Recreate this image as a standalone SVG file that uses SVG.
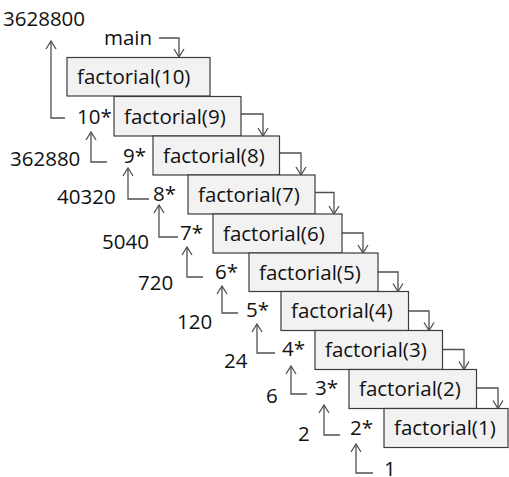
<svg xmlns="http://www.w3.org/2000/svg" width="509" height="477" viewBox="0 0 509 477">
<defs>
<style>
.box{fill:#f2f2f2;stroke:#3c3c3c;stroke-width:1.2}
text{font-family:"Open Sans","Liberation Sans",sans-serif;font-size:20.5px;fill:#111}
.c{fill:none;stroke:#505050;stroke-width:1.3}
.dn{marker-end:url(#ah)}
.up{marker-end:url(#ah)}
</style>
<marker id="ah" viewBox="0 0 12 12" refX="11" refY="6" markerWidth="12" markerHeight="12" markerUnits="userSpaceOnUse" orient="auto">
<path d="M3,1 L11,6 L3,11" fill="none" stroke="#505050" stroke-width="1.3"/>
</marker>
</defs>
<rect width="509" height="477" fill="#fff"/>
<g id="connectors">
<path class="c dn" d="M159,38 H179 V57"/>
<path class="c dn" d="M241,114 H263 V136"/>
<path class="c dn" d="M279.5,153 H301 V175"/>
<path class="c dn" d="M315,192.5 H334 V214"/>
<path class="c dn" d="M342,233 H363 V253"/>
<path class="c dn" d="M378,272 H398 V291.5"/>
<path class="c dn" d="M408.5,311 H429 V330.5"/>
<path class="c dn" d="M442.5,349.5 H464 V369.5"/>
<path class="c dn" d="M476.5,388 H498 V408.5"/>
<path class="c up" d="M65,118 H51 V41"/>
<path class="c up" d="M107,162 H91 V132"/>
<path class="c up" d="M149,199 H128 V168"/>
<path class="c up" d="M178,237 H159 V205"/>
<path class="c up" d="M203,277 H187 V247"/>
<path class="c up" d="M238,313 H222 V286"/>
<path class="c up" d="M275,353 H257 V324"/>
<path class="c up" d="M307,394 H291 V366"/>
<path class="c up" d="M340,435 H324 V405"/>
<path class="c up" d="M373,473 H356 V444"/>
</g>
<g id="main"><text x="104" y="45">main</text></g>
<g id="f10"><rect class="box" x="67" y="57.5" width="143" height="38.5"/><text x="77" y="84">factorial(10)</text></g>
<g id="f9"><rect class="box" x="114" y="96.5" width="127" height="39.5"/><text x="124" y="123.5">factorial(9)</text></g>
<g id="f8"><rect class="box" x="153" y="136" width="126.5" height="39"/><text x="163" y="162.5">factorial(8)</text></g>
<g id="f7"><rect class="box" x="188" y="175" width="127" height="39"/><text x="198" y="201.5">factorial(7)</text></g>
<g id="f6"><rect class="box" x="213" y="214" width="129" height="39"/><text x="223" y="240.5">factorial(6)</text></g>
<g id="f5"><rect class="box" x="249" y="253" width="129" height="38.5"/><text x="259" y="279.5">factorial(5)</text></g>
<g id="f4"><rect class="box" x="281" y="291.5" width="127.5" height="39"/><text x="291" y="318">factorial(4)</text></g>
<g id="f3"><rect class="box" x="315" y="330.5" width="127.5" height="39"/><text x="325" y="357">factorial(3)</text></g>
<g id="f2"><rect class="box" x="349" y="369.5" width="127.5" height="39"/><text x="359" y="396">factorial(2)</text></g>
<g id="f1"><rect class="box" x="384" y="408.5" width="124" height="39"/><text x="394" y="435">factorial(1)</text></g>
<g id="mults">
<text x="77" y="123.5">10*</text>
<text x="123" y="163">9*</text>
<text x="153" y="201">8*</text>
<text x="180" y="240">7*</text>
<text x="215" y="278.5">6*</text>
<text x="246" y="316.5">5*</text>
<text x="282" y="356">4*</text>
<text x="315" y="395">3*</text>
<text x="350" y="435">2*</text>
<text x="384" y="476">1</text>
</g>
<g id="values">
<text x="3" y="26">3628800</text>
<text x="10" y="166">362880</text>
<text x="57" y="204">40320</text>
<text x="102" y="248.5">5040</text>
<text x="138" y="289.5">720</text>
<text x="177" y="328.5">120</text>
<text x="224" y="367.5">24</text>
<text x="266" y="403">6</text>
<text x="298" y="441">2</text>
</g>
</svg>
